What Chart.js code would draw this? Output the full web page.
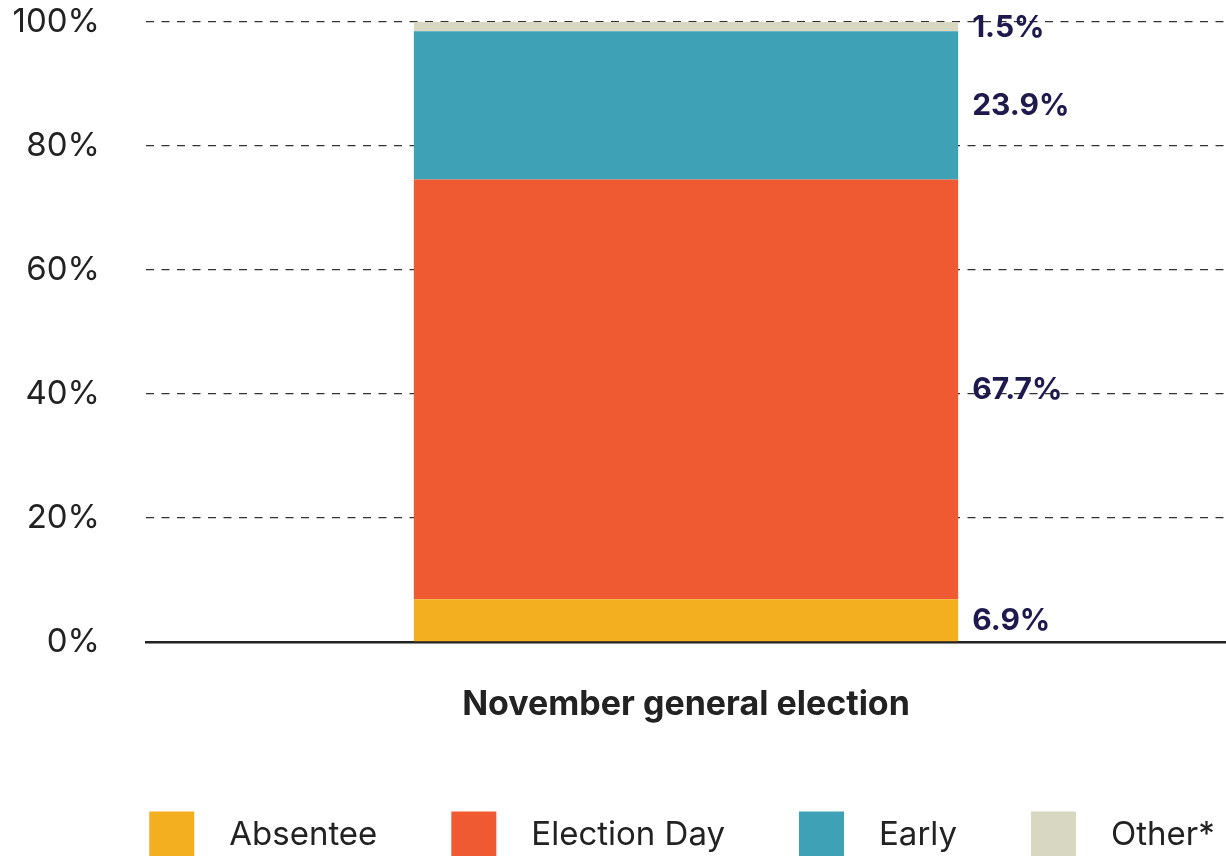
<!DOCTYPE html>
<html><head><meta charset="utf-8">
<script src="https://cdn.jsdelivr.net/npm/chart.js@4.4.1/dist/chart.umd.min.js"></script>
<style>html,body{margin:0;padding:0;background:#fff;}#wrap{width:1226px;height:856px;}</style>
</head><body><div id="wrap"><canvas id="c" width="1226" height="856"></canvas></div>
<script>
const categories = ["November general election"];
const seriesNames = ["Absentee", "Election Day", "Early", "Other*"];
const absentee = [6.9];
const electionDay = [67.7];
const early = [23.9];
const other = [1.5];
const yTicks = [0, 20, 40, 60, 80, 100];
const colors = ["#F3AF1F", "#F05A33", "#3EA1B6", "#D8D7C1"];

const FONT = "Inter, 'Noto Sans', sans-serif";

const labelPlugin = {
  id: 'segLabels',
  afterDatasetsDraw(chart) {
    const ctx = chart.ctx;
    ctx.save();
    ctx.font = "bold 30px " + FONT;
    ctx.fillStyle = "#1E1A4E";
    ctx.textAlign = "left";
    ctx.textBaseline = "middle";
    chart.data.datasets.forEach((ds, di) => {
      const meta = chart.getDatasetMeta(di);
      meta.data.forEach((bar, i) => {
        const p = bar.getProps(['x','y','base','width'], true);
        const yc = (p.y + p.base) / 2;
        ctx.fillText(ds.data[i].toFixed(1) + "%", p.x + p.width / 2 + 14, yc + 1);
      });
    });
    ctx.restore();
  }
};

const legendPlugin = {
  id: 'customLegend',
  afterDraw(chart) {
    const ctx = chart.ctx;
    ctx.save();
    ctx.font = "33px " + FONT;
    const box = 45, gapText = 35, gapItem = 74;
    const items = chart.data.datasets.map(d => ({t: d.label, c: d.backgroundColor, w: ctx.measureText(d.label).width}));
    let total = items.reduce((s, it) => s + box + gapText + it.w, 0) + gapItem * (items.length - 1);
    const cx = (chart.chartArea.left + chart.chartArea.right) / 2 - 4;
    let x = cx - total / 2;
    const yc = chart.height - 22;
    ctx.textBaseline = "middle";
    ctx.textAlign = "left";
    items.forEach(it => {
      ctx.fillStyle = it.c;
      ctx.fillRect(x, yc - box / 2, box, box);
      ctx.fillStyle = "#222";
      ctx.fillText(it.t, x + box + gapText, yc + 1);
      x += box + gapText + it.w + gapItem;
    });
    ctx.restore();
  }
};

const seriesValues = [absentee, electionDay, early, other];
new Chart(document.getElementById('c'), {
  type: 'bar',
  data: {
    labels: categories,
    datasets: seriesNames.map((n, i) => ({
      label: n, data: seriesValues[i], backgroundColor: colors[i],
      borderWidth: 0, categoryPercentage: 1, barPercentage: 0.504
    }))
  },
  options: {
    responsive: false, animation: false,
    layout: { padding: { top: 22, right: 0, left: 0, bottom: 0 } },
    plugins: { legend: { display: false }, tooltip: { enabled: false } },
    scales: {
      x: {
        stacked: true,
        grid: { display: false, drawTicks: false },
        border: { display: true, color: "#222", width: 2.5 },
        ticks: { font: { family: FONT, size: 34, weight: 'bold' }, color: "#222", padding: 42 },
        afterFit(s) { s.height = 214; s.paddingLeft = 0; s.paddingRight = 0; }
      },
      y: {
        stacked: true, min: 0, max: 100,
        afterBuildTicks(s) { s.ticks = yTicks.map(v => ({ value: v })); },
        grid: {
          drawTicks: false,
          color: c => c.tick && c.tick.value === 0 ? 'rgba(0,0,0,0)' : '#333',
          lineWidth: 1.3
        },
        border: { display: false, dash: [8, 7.5] },
        ticks: { font: { family: FONT, size: 33 }, color: "#222", padding: 46, callback: v => v + "%" },
        afterFit(s) { s.width = 146; s.paddingTop = 0; s.paddingBottom = 0; }
      }
    }
  },
  plugins: [labelPlugin, legendPlugin]
});
</script></body></html>
